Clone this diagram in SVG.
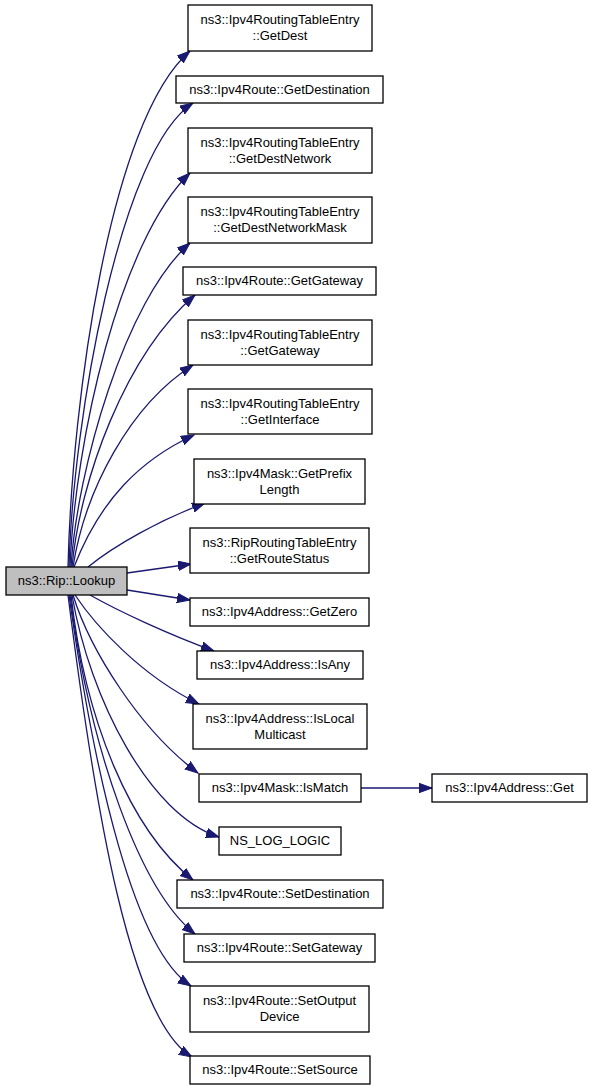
<svg xmlns="http://www.w3.org/2000/svg" width="592" height="1091" viewBox="0 0 592 1091">
<style>
.n rect{fill:#fff;stroke:#000;stroke-width:1.3}
.n.root rect{fill:#bfbfbf}
.n text{font-family:"Liberation Sans",Arial,sans-serif;font-size:13px;fill:#000;text-anchor:middle}
.e path{fill:none;stroke:#191970;stroke-width:1.3;marker-end:url(#arr)}
</style>
<defs>
<marker id="arr" markerUnits="userSpaceOnUse" markerWidth="16" markerHeight="12" refX="13" refY="5" orient="auto" viewBox="0 0 16 12">
<path d="M0,0.3 L13,5 L0,9.7 z" fill="#191970" stroke="#191970" stroke-width="1"/>
</marker>
</defs>
<rect width="592" height="1091" fill="#fff"/>
<g id="edges" class="e">
<path d="M68,567 C72,400 110,120 190,51"/>
<path d="M69,567 C73,420 120,150 193,103"/>
<path d="M70,567 C75,440 120,240 190,173"/>
<path d="M71,567 C77,470 125,300 190,243"/>
<path d="M72,567 C80,480 125,355 195,295"/>
<path d="M73,567 C85,490 130,405 193,365"/>
<path d="M74,567 C100,500 140,460 194,435"/>
<path d="M88,567 C115,545 160,520 205,503"/>
<path d="M127,573 L191,564"/>
<path d="M127,590 L190,600"/>
<path d="M90,595 C120,612 170,635 214,651"/>
<path d="M75,595 C95,625 140,675 199,704"/>
<path d="M73,595 C90,650 140,730 198,773"/>
<path d="M72,595 C90,700 150,815 219,837"/>
<path d="M71,595 C85,720 130,830 193,880"/>
<path d="M70,595 C90,750 140,890 195,934"/>
<path d="M69,595 C95,780 135,950 191,986"/>
<path d="M68,595 C95,810 130,1020 192,1057"/>
<path d="M361,788 L432,788"/>
</g>
<g id="lookup" class="n root"><rect x="6" y="567" width="121" height="28"/><text x="66.5" y="585">ns3::Rip::Lookup</text></g>
<g id="getdest" class="n"><rect x="188" y="5" width="184" height="46"/><text x="280" y="23.5">ns3::Ipv4RoutingTableEntry</text><text x="280" y="40">::GetDest</text></g>
<g id="getdestination" class="n"><rect x="176" y="76" width="207" height="27"/><text x="279.5" y="93.5">ns3::Ipv4Route::GetDestination</text></g>
<g id="getdestnetwork" class="n"><rect x="188" y="128" width="184" height="45"/><text x="280" y="146.5">ns3::Ipv4RoutingTableEntry</text><text x="280" y="163">::GetDestNetwork</text></g>
<g id="getdestnetworkmask" class="n"><rect x="188" y="197" width="184" height="46"/><text x="280" y="215.5">ns3::Ipv4RoutingTableEntry</text><text x="280" y="232">::GetDestNetworkMask</text></g>
<g id="route-getgateway" class="n"><rect x="183" y="267" width="193" height="28"/><text x="279.5" y="285">ns3::Ipv4Route::GetGateway</text></g>
<g id="rte-getgateway" class="n"><rect x="188" y="320" width="184" height="45"/><text x="280" y="338.5">ns3::Ipv4RoutingTableEntry</text><text x="280" y="355">::GetGateway</text></g>
<g id="getinterface" class="n"><rect x="188" y="389" width="184" height="45"/><text x="280" y="407.5">ns3::Ipv4RoutingTableEntry</text><text x="280" y="424">::GetInterface</text></g>
<g id="getprefixlength" class="n"><rect x="194" y="459" width="171" height="45"/><text x="279.5" y="477.5">ns3::Ipv4Mask::GetPrefix</text><text x="279.5" y="494">Length</text></g>
<g id="getroutestatus" class="n"><rect x="190" y="528" width="179" height="45"/><text x="279.5" y="546.5">ns3::RipRoutingTableEntry</text><text x="279.5" y="563">::GetRouteStatus</text></g>
<g id="getzero" class="n"><rect x="190" y="598" width="179" height="28"/><text x="279.5" y="616">ns3::Ipv4Address::GetZero</text></g>
<g id="isany" class="n"><rect x="197" y="651" width="166" height="28"/><text x="280" y="669">ns3::Ipv4Address::IsAny</text></g>
<g id="islocalmulticast" class="n"><rect x="193" y="704" width="174" height="45"/><text x="280" y="722.5">ns3::Ipv4Address::IsLocal</text><text x="280" y="739">Multicast</text></g>
<g id="ismatch" class="n"><rect x="199" y="774" width="162" height="28"/><text x="280" y="792">ns3::Ipv4Mask::IsMatch</text></g>
<g id="get" class="n"><rect x="432" y="774" width="155" height="28"/><text x="509.5" y="792">ns3::Ipv4Address::Get</text></g>
<g id="ns-log-logic" class="n"><rect x="219" y="827" width="122" height="28"/><text x="280" y="845">NS_LOG_LOGIC</text></g>
<g id="setdestination" class="n"><rect x="177" y="880" width="206" height="28"/><text x="280" y="898">ns3::Ipv4Route::SetDestination</text></g>
<g id="setgateway" class="n"><rect x="184" y="934" width="191" height="28"/><text x="279.5" y="952">ns3::Ipv4Route::SetGateway</text></g>
<g id="setoutputdevice" class="n"><rect x="190" y="986" width="179" height="46"/><text x="279.5" y="1004.5">ns3::Ipv4Route::SetOutput</text><text x="279.5" y="1021">Device</text></g>
<g id="setsource" class="n"><rect x="190" y="1056" width="180" height="28"/><text x="280" y="1074">ns3::Ipv4Route::SetSource</text></g>
</svg>
